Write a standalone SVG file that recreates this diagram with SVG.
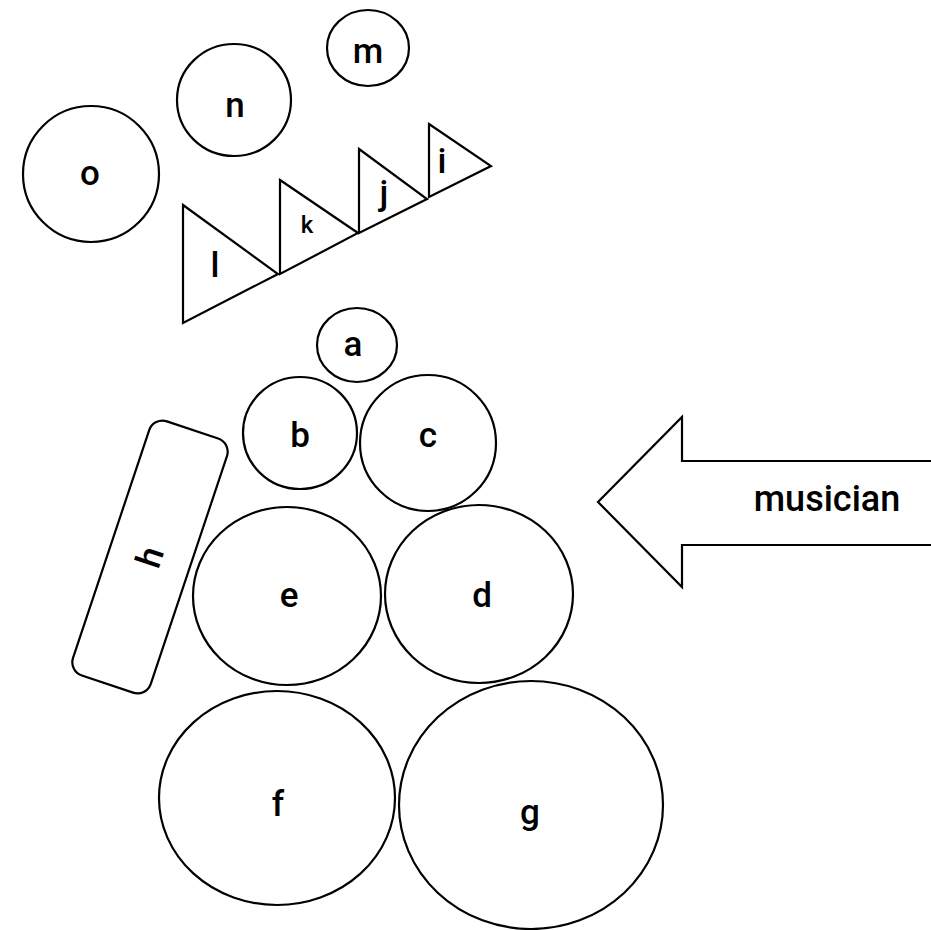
<svg xmlns="http://www.w3.org/2000/svg" width="931" height="930" viewBox="0 0 931 930">
  <style>
    .shape { fill: #ffffff; stroke: #000000; stroke-width: 2.2; }
    .lbl { font-family: Roboto, "Liberation Sans", sans-serif; font-size: 35px; font-weight: 500; fill: #000000; text-anchor: middle; }
    .small { font-size: 24px; }
  </style>
  <rect width="931" height="930" fill="#ffffff"/>

  <!-- upper cluster -->
  <g id="node-o"><ellipse class="shape" cx="91" cy="174" rx="68" ry="68"/><text class="lbl" x="90" y="185">o</text></g>
  <g id="node-n"><ellipse class="shape" cx="234" cy="100" rx="57" ry="56"/><text class="lbl" x="235" y="117">n</text></g>
  <g id="node-m"><ellipse class="shape" cx="368" cy="48" rx="41" ry="38"/><text class="lbl" x="368" y="63">m</text></g>

  <!-- wedge row -->
  <g id="node-l"><polygon class="shape" points="183,205 278,274 183,323"/><text class="lbl" x="215" y="277">l</text></g>
  <g id="node-k"><polygon class="shape" points="280,180 358,233 280,274"/><text class="lbl small" x="307" y="233">k</text></g>
  <g id="node-j"><polygon class="shape" points="359,149 427,199 359,233"/><text class="lbl" x="384" y="205">j</text></g>
  <g id="node-i"><polygon class="shape" points="429,124 491,166 429,197"/><text class="lbl" x="442" y="173">i</text></g>

  <!-- lower cluster -->
  <g id="node-a"><ellipse class="shape" cx="357" cy="345" rx="40" ry="37"/><text class="lbl" x="353" y="356">a</text></g>
  <g id="node-b"><ellipse class="shape" cx="300" cy="433" rx="57" ry="56"/><text class="lbl" x="300" y="447">b</text></g>
  <g id="node-c"><ellipse class="shape" cx="428" cy="443" rx="68" ry="68"/><text class="lbl" x="428" y="447">c</text></g>
  <g id="node-e"><ellipse class="shape" cx="287" cy="596" rx="94" ry="89"/><text class="lbl" x="289" y="607">e</text></g>
  <g id="node-d"><ellipse class="shape" cx="479" cy="594" rx="94" ry="89"/><text class="lbl" x="482" y="607">d</text></g>
  <g id="node-f"><ellipse class="shape" cx="277" cy="798" rx="118" ry="107"/><text class="lbl" x="278" y="816">f</text></g>
  <g id="node-g"><ellipse class="shape" cx="531" cy="805" rx="132" ry="124"/><text class="lbl" x="530" y="824">g</text></g>

  <g id="node-h" transform="translate(150,557) rotate(18.5)">
    <rect class="shape" x="-41" y="-134" width="82" height="268" rx="14"/>
    <text class="lbl" x="0" y="12" transform="rotate(-90)">h</text>
  </g>

  <!-- direction arrow -->
  <g id="node-musician">
    <path class="shape" d="M933,461 H682 V417 L598,502 L682,587 V545 H933"/>
    <text class="lbl" x="827" y="511" style="font-size:36px">musician</text>
  </g>

  <g id="connectors"/>
</svg>
